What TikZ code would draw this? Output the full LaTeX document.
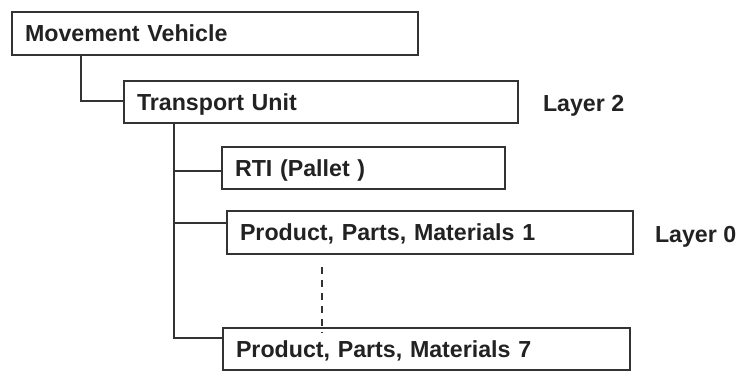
\documentclass[tikz,border=0pt]{standalone}
\usepackage{fontspec}
\setmainfont{Liberation Sans}
\usetikzlibrary{calc}
\definecolor{ln}{HTML}{333333}
\definecolor{tx}{HTML}{222222}
\begin{document}
\begin{tikzpicture}[x=1pt,y=1pt,
  box/.style={draw=ln, line width=2pt, fill=white, rectangle, anchor=north west,
    outer sep=0pt, inner xsep=13pt, inner ysep=0pt, align=left, text=tx,
    text height=16.6pt, text depth=0pt,
    font=\fontsize{23.2}{26}\selectfont\bfseries},
  conn/.style={draw=ln, line width=2pt},
  lbl/.style={anchor=west, inner sep=0pt, outer sep=0pt, text=tx,
    text height=16.6pt, text depth=0pt, font=\fontsize{23.2}{26}\selectfont\bfseries}]
\useasboundingbox (0,0) rectangle (739,-370);
\node[box, minimum width=406, minimum height=43, text width=380] (MV) at (12,-12) {Movement Vehicle};
\node[box, minimum width=394, minimum height=42, text width=368] (TU) at (124,-81) {Transport Unit};
\node[box, minimum width=283, minimum height=42, text width=257] (RTI) at (222,-147) {RTI (Pallet )};
\node[box, minimum width=406, minimum height=43, text width=380] (P1) at (227,-211) {Product, Parts, Materials 1};
\node[box, minimum width=407, minimum height=42, text width=381] (P7) at (223,-328) {Product, Parts, Materials 7};
\node[lbl] (L2) at (543,-103) {Layer 2};
\node[lbl] (L0) at (655,-234) {Layer 0};
\draw[conn] ($(MV.south west)+(69,0)$) |- ($(TU.north west)+(0,-20)$);
\draw[conn] ($(TU.south west)+(50,0)$) |- ($(P7.north west)+(0,-10)$);
\draw[conn] ($(TU.south west)+(50,-48)$) -- ($(RTI.north west)+(0,-24)$);
\draw[conn] ($(TU.south west)+(50,-100)$) -- ($(P1.north west)+(0,-12)$);
\draw[conn, dash pattern=on 7pt off 6pt] ($(P1.south west)+(95,-13)$) -- ($(P7.north west)+(99,-5)$);
\end{tikzpicture}
\end{document}
